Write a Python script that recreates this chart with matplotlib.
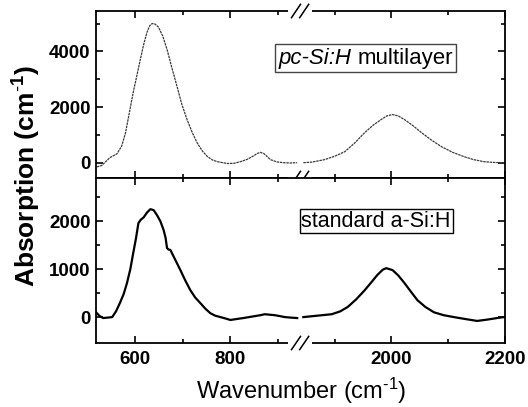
import numpy as np
import matplotlib
matplotlib.use("Agg")
import matplotlib.pyplot as plt
from matplotlib.ticker import FixedLocator, NullFormatter, FixedFormatter
from matplotlib.offsetbox import TextArea, HPacker, AnchoredOffsetbox
from matplotlib.font_manager import FontProperties

plt.rcParams['font.family'] = ['Liberation Sans', 'DejaVu Sans']
plt.rcParams['mathtext.fontset'] = 'custom'
plt.rcParams['mathtext.rm'] = 'Liberation Sans'
plt.rcParams['mathtext.bf'] = 'Liberation Sans:bold'
plt.rcParams['mathtext.it'] = 'Liberation Sans:italic'

# ---- data ----
top_left_x = [520, 530, 547, 562, 572, 580, 588, 596, 604, 611, 618, 625, 631, 636, 642, 649, 658, 667, 677, 688,
              698, 709, 720, 730, 741, 752, 763, 773, 784, 794, 808, 821, 835, 848, 856, 863, 870, 877, 884, 897,
              911, 925, 940]
top_left_y = [-150, -100, 180, 320, 600, 1080, 1800, 2520, 3150, 3710, 4250, 4690, 4930, 5000, 4980, 4870, 4550,
              4070, 3420, 2740, 2100, 1550, 1080, 720, 420, 216, 90, 36, 0, -30, -20, 36, 120, 240, 330, 370, 330,
              220, 110, 30, 0, -10, 0]
top_right_x = [1845, 1860, 1882, 1900, 1918, 1935, 1953, 1968, 1982, 1992, 2002, 2012, 2023, 2038, 2053, 2070, 2088,
               2108, 2128, 2145, 2163, 2180, 2198]
top_right_y = [0, 20, 108, 230, 396, 700, 1080, 1350, 1550, 1680, 1730, 1680, 1550, 1330, 1080, 820, 577, 370, 216,
               110, 36, 10, 0]

bot_left_x = [518, 526, 533, 543, 552, 560, 568, 576, 583, 590, 596, 602, 607, 612, 618, 625, 632, 639, 646, 653, 660,
              664, 667, 670, 674, 684, 695, 705, 716, 726, 737, 748, 758, 768, 779, 790, 800, 813, 827, 845, 863, 872,
              882, 893, 904, 914, 926, 940]
bot_left_y = [100, 20, -20, -10, 0, 120, 290, 480, 710, 1000, 1330, 1650, 1960, 2030, 2080, 2180, 2250, 2230, 2125,
              2000, 1810, 1650, 1440, 1410, 1400, 1200, 980, 770, 560, 410, 290, 170, 80, 30, 0, -30, -60, -40, -20,
              10, 40, 60, 50, 40, 20, 0, -10, -20]
bot_right_x = [1845, 1870, 1895, 1910, 1923, 1938, 1953, 1965, 1975, 1985, 1991, 2002, 2012, 2023, 2035, 2046, 2060,
               2075, 2092, 2110, 2130, 2151, 2170, 2186, 2198]
bot_right_y = [0, 30, 60, 120, 210, 370, 560, 730, 875, 990, 1020, 980, 870, 710, 520, 350, 210, 100, 40, 0, -40,
               -80, -50, -20, 0]

x_major = [600, 800, 2000, 2200]
x_major_labels = ['600', '800', '2000', '2200']
x_minor = [700, 900, 1900, 2100]

top_y_major = [0, 2000, 4000]
top_y_minor = [1000, 3000, 5000]
bot_y_major = [0, 1000, 2000]
bot_y_minor = [500, 1500, 2500]

# ---- broken x scale ----
L0, L1, R0, R1 = 518, 947, 1840, 2200


def fwd(x):
    x = np.asarray(x, dtype=float)
    return np.where(x <= L1, (x - L0) / (L1 - L0) * 0.5,
                    np.where(x >= R0, 0.5 + (x - R0) / (R1 - R0) * 0.5,
                             0.5 + (x - L1) / (R0 - L1) * 1e-9))


def inv(y):
    y = np.asarray(y, dtype=float)
    return np.where(y <= 0.5, L0 + y / 0.5 * (L1 - L0), R0 + (y - 0.5) / 0.5 * (R1 - R0))


fig = plt.figure(figsize=(5.28, 4.07), dpi=100)
left, right = 96 / 528, 505 / 528
y_mid = 1 - 178 / 407
y_top = 1 - 11 / 407
y_bot = 1 - 343 / 407
ax1 = fig.add_axes([left, y_mid, right - left, y_top - y_mid])
ax2 = fig.add_axes([left, y_bot, right - left, y_mid - y_bot])

tick_font = FontProperties(family='Liberation Sans', weight='bold', size=13.5)

for ax in (ax1, ax2):
    ax.set_xscale('function', functions=(fwd, inv))
    ax.set_xlim(L0, R1)
    ax.xaxis.set_major_locator(FixedLocator(x_major))
    ax.xaxis.set_minor_locator(FixedLocator(x_minor))
    ax.xaxis.set_minor_formatter(NullFormatter())
    ax.tick_params(which='both', direction='in', top=True, right=True, width=1.2)
    ax.tick_params(which='major', length=5)
    ax.tick_params(which='minor', length=3)
    for s in ax.spines.values():
        s.set_linewidth(1.3)

ax1.plot(top_left_x, top_left_y, color='#3a3a3a', lw=0.9, ls=(0, (2, 0.6)))
ax1.plot(top_right_x, top_right_y, color='#3a3a3a', lw=0.9, ls=(0, (2, 0.6)))
ax2.plot(bot_left_x, bot_left_y, color='black', lw=1.6)
ax2.plot(bot_right_x, bot_right_y, color='black', lw=1.6)

ax1.set_ylim(-550, 5450)
ax1.yaxis.set_major_locator(FixedLocator(top_y_major))
ax1.yaxis.set_minor_locator(FixedLocator(top_y_minor))
ax1.tick_params(labelbottom=False)
ax2.set_ylim(-540, 2900)
ax2.yaxis.set_major_locator(FixedLocator(bot_y_major))
ax2.yaxis.set_minor_locator(FixedLocator(bot_y_minor))
ax2.xaxis.set_major_formatter(FixedFormatter(x_major_labels))

for ax in (ax1, ax2):
    ax.tick_params(axis='y', pad=4)
    ax.tick_params(axis='x', pad=6)
    for lab in ax.get_yticklabels() + ax.get_xticklabels():
        lab.set_fontproperties(tick_font)


# break marks
def break_mark(ax, y):
    xc = 0.499
    ax.plot([xc - 0.03, xc + 0.03], [y, y], transform=ax.transAxes, color='white', lw=3,
            clip_on=False, zorder=5, solid_capstyle='butt')
    for dx in (-0.01, 0.01):
        ax.plot([xc + dx - 0.011, xc + dx + 0.011], [y - 0.04, y + 0.04], transform=ax.transAxes,
                color='black', lw=1.1, clip_on=False, zorder=6)


break_mark(ax1, 1.0)
break_mark(ax1, 0.0)
break_mark(ax2, 0.0)

# labels in boxes
box1 = HPacker(children=[TextArea('pc-Si:H', textprops=dict(style='italic', size=16)),
                         TextArea('multilayer', textprops=dict(size=16))], sep=4, align='baseline', pad=0)
ab1 = AnchoredOffsetbox(loc='center', child=box1, pad=0.25, borderpad=0, frameon=True,
                        bbox_to_anchor=(0.66, 0.716), bbox_transform=ax1.transAxes)
ab1.patch.set_linewidth(1.0)
ab1.patch.set_edgecolor('#444444')
ax1.add_artist(ab1)

box2 = TextArea('standard a-Si:H', textprops=dict(size=15.5))
ab2 = AnchoredOffsetbox(loc='center', child=box2, pad=0.12, borderpad=0, frameon=True,
                        bbox_to_anchor=(0.685, 0.739), bbox_transform=ax2.transAxes)
ab2.patch.set_linewidth(1.0)
ab2.patch.set_edgecolor('black')
ax2.add_artist(ab2)

fig.text(27 / 528, 1 - 176 / 407, r'Absorption (cm$^{\text{-}\mathbf{1}}$)', rotation=90, ha='center',
         va='center', fontsize=19, fontweight='bold')
fig.text(301 / 528, 1 - 391 / 407, r'Wavenumber (cm$^{\text{-}1}$)', ha='center', va='center', fontsize=17)

fig.savefig('out.png', dpi=100)
